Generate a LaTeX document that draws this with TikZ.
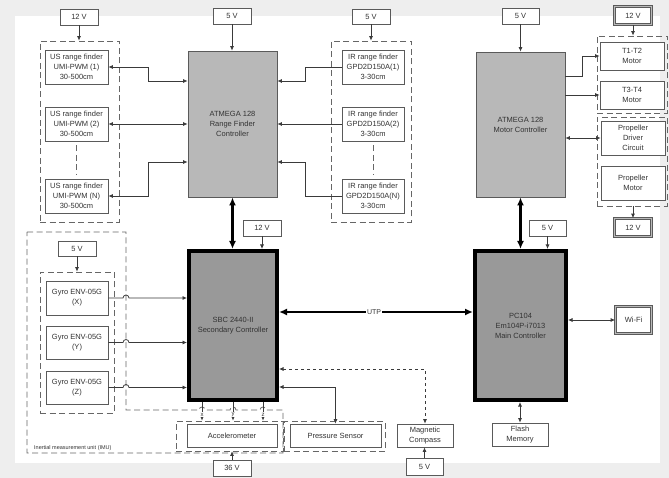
\documentclass[tikz,border=0pt]{standalone}
\usepackage{fontspec}
\setmainfont{Liberation Sans}
\usetikzlibrary{arrows.meta}
\definecolor{bd}{HTML}{5A5A5A}
\definecolor{txt}{HTML}{333333}
\definecolor{cn}{HTML}{3A3A3A}
\definecolor{dsh}{HTML}{666666}
\definecolor{atm}{HTML}{B8B8B8}
\definecolor{cpu}{HTML}{999999}
\definecolor{bg}{HTML}{EEEEEE}
\tikzset{
  box/.style={draw=bd, line width=0.7pt, fill=white, inner sep=0pt, align=center, text=txt},
  pw/.style={box},
  dbl/.style={draw=bd, line width=0.7pt, double=gray!55, double distance=1.6pt, fill=white, inner sep=0pt, align=center, text=txt},
  grp/.style={draw=dsh, line width=0.8pt, dash pattern=on 6pt off 3.5pt, inner sep=0pt},
  atmbox/.style={draw=bd, line width=0.8pt, fill=atm, inner sep=0pt, align=center, text=txt},
  cpubox/.style={draw=black, line width=4pt, fill=cpu, inner sep=0pt, align=center, text=txt},
  conn/.style={draw=cn, line width=0.75pt},
  arr/.style={conn, -{Latex[length=4.5pt,width=4pt]}},
  darr/.style={conn, {Latex[length=4.5pt,width=4pt]}-{Latex[length=4.5pt,width=4pt]}},
  tharr/.style={draw=black, line width=2.4pt, {Latex[length=8pt,width=7pt]}-{Latex[length=8pt,width=7pt]}},
  lbl/.style={font=\fontsize{6}{6}\selectfont, text=txt, inner sep=0.5pt, fill=white}
}
\begin{document}
\begin{tikzpicture}[x=1pt,y=-1pt, font=\fontsize{7.5}{10}\selectfont]
\fill[bg] (0,0) rectangle (669,478);
\fill[white] (15,16) rectangle (660,463);
\useasboundingbox (0,0) rectangle (669,478);

% groups
\node[grp, minimum width=79pt, minimum height=181pt] (usgrp) at (79.5,131.5) {};
\node[grp, minimum width=80pt, minimum height=181pt] (irgrp) at (371,131.5) {};
\node[grp, minimum width=70pt, minimum height=77pt] (mg1) at (632,74.5) {};
\node[grp, minimum width=70pt, minimum height=89pt] (mg2) at (632,161.5) {};
\node[grp, minimum width=74pt, minimum height=141pt] (gyrogrp) at (77,342.5) {};
\node[grp, minimum width=107pt, minimum height=30pt] (accgrp) at (229.5,436) {};
\node[grp, minimum width=101pt, minimum height=30pt] (presgrp) at (334.5,436) {};

% IMU outline
\draw[draw=dsh, line width=0.8pt, dash pattern=on 6pt off 3.5pt]
  (27,232) -- (126,232) -- (126,410) -- (199,410)
  arc[start angle=180,end angle=0,radius=3pt] -- (230,410)
  arc[start angle=180,end angle=0,radius=3pt] -- (260,410)
  arc[start angle=180,end angle=0,radius=3pt] -- (283,410) -- (283,453) -- (27,453) -- cycle;
\node[font=\fontsize{5.5}{6}\selectfont, text=txt, anchor=west, inner sep=0pt] (imulbl) at (34,448) {Inertial measurement unit (IMU)};

% power boxes
\node[pw, minimum width=38pt, minimum height=16pt] (p12a) at (79,17) {12 V};
\node[pw, minimum width=38pt, minimum height=16pt] (p5a) at (232,16) {5 V};
\node[pw, minimum width=38pt, minimum height=15pt] (p5b) at (371,16.5) {5 V};
\node[pw, minimum width=37pt, minimum height=16pt] (p5c) at (520.5,16) {5 V};
\node[dbl, minimum width=37pt, minimum height=18pt] (p12b) at (633,15.5) {12 V};
\node[dbl, minimum width=37pt, minimum height=18pt] (p12c) at (633,227.5) {12 V};
\node[dbl, minimum width=36pt, minimum height=27pt] (wifi) at (633.5,320) {Wi-Fi};
\node[pw, minimum width=38pt, minimum height=16pt] (p12d) at (262,228) {12 V};
\node[pw, minimum width=37pt, minimum height=16pt] (p5d) at (547.5,228) {5 V};
\node[pw, minimum width=38pt, minimum height=15pt] (p5e) at (77,248.5) {5 V};
\node[pw, minimum width=38pt, minimum height=16pt] (p36) at (232,468) {36 V};
\node[pw, minimum width=37pt, minimum height=17pt] (p5f) at (424.5,466.5) {5 V};

% US range finders
\node[box, minimum width=63pt, minimum height=34pt] (us1) at (76.5,67) {US range finder\\UMI-PWM (1)\\30-500cm};
\node[box, minimum width=63pt, minimum height=34pt] (us2) at (76.5,124) {US range finder\\UMI-PWM (2)\\30-500cm};
\node[box, minimum width=63pt, minimum height=34pt] (usN) at (76.5,196) {US range finder\\UMI-PWM (N)\\30-500cm};
% IR range finders
\node[box, minimum width=62pt, minimum height=34pt] (ir1) at (373,67) {IR range finder\\GPD2D150A(1)\\3-30cm};
\node[box, minimum width=62pt, minimum height=34pt] (ir2) at (373,124) {IR range finder\\GPD2D150A(2)\\3-30cm};
\node[box, minimum width=62pt, minimum height=34pt] (irN) at (373,196) {IR range finder\\GPD2D150A(N)\\3-30cm};
\draw[grp] ([yshift=-4pt]us2.south) -- ([yshift=4pt]usN.north);
\draw[grp] ([yshift=-4pt]ir2.south) -- ([yshift=4pt]irN.north);

% controllers
\node[atmbox, minimum width=89pt, minimum height=146pt] (atm1) at (232.5,124) {ATMEGA 128\\Range Finder\\Controller};
\node[atmbox, minimum width=89pt, minimum height=145pt] (atm2) at (520.5,124.5) {ATMEGA 128\\Motor Controller};
\node[cpubox, minimum width=88pt, minimum height=149pt] (sbc) at (233,325.5) {SBC 2440-II\\Secondary Controller};
\node[cpubox, minimum width=91pt, minimum height=149pt] (pc) at (520.5,325.5) {PC104\\Em104P-i7013\\Main Controller};

% motors
\node[box, minimum width=64pt, minimum height=28pt] (t12) at (632,56) {T1-T2\\Motor};
\node[box, minimum width=64pt, minimum height=28pt] (t34) at (632,95) {T3-T4\\Motor};
\node[box, minimum width=64pt, minimum height=34pt] (pd) at (633,138) {Propeller\\Driver\\Circuit};
\node[box, minimum width=64pt, minimum height=34pt] (pm) at (633,183) {Propeller\\Motor};

% gyros
\node[box, minimum width=62pt, minimum height=34pt] (gx) at (77,298) {Gyro ENV-05G\\(X)};
\node[box, minimum width=62pt, minimum height=33pt] (gy) at (77,342.5) {Gyro ENV-05G\\(Y)};
\node[box, minimum width=62pt, minimum height=33pt] (gz) at (77,387.5) {Gyro ENV-05G\\(Z)};

% bottom boxes
\node[box, minimum width=90pt, minimum height=23pt] (acc) at (232,435.5) {Accelerometer};
\node[box, minimum width=91pt, minimum height=23pt] (pres) at (335.5,435.5) {Pressure Sensor};
\node[box, minimum width=56pt, minimum height=23pt] (comp) at (425,435.5) {Magnetic\\Compass};
\node[box, minimum width=56pt, minimum height=23pt] (flash) at (520,434.5) {Flash\\Memory};

% power connectors
\draw[arr] (p12a.south) -- (p12a.south |- usgrp.north);
\draw[arr] (p5a.south) -- (p5a.south |- atm1.north);
\draw[arr] (p5b.south) -- (p5b.south |- irgrp.north);
\draw[arr] (p5c.south) -- (p5c.south |- atm2.north);
\draw[arr] (p12b.south) -- (p12b.south |- mg1.north);
\draw[arr] (p12c.north |- mg2.south) -- (p12c.north);
\draw[arr] (p12d.south) -- (p12d.south |- sbc.north);
\draw[arr] (p5d.south) -- (p5d.south |- pc.north);
\draw[arr] (p5e.south) -- (p5e.south |- gyrogrp.north);
\draw[arr] (p36.north) -- (p36.north |- accgrp.south);
\draw[arr] (p5f.north) -- (p5f.north |- comp.south);

% US connectors
\draw[darr] (us1.east) -- ++(40,0) |- ([yshift=43pt]atm1.west);
\draw[darr] (us2.east) -- (atm1.west);
\draw[darr] (usN.east) -- ++(40,0) |- ([yshift=-38pt]atm1.west);
% IR connectors
\draw[arr] (ir1.west) -- ++(-36,0) |- ([yshift=43pt]atm1.east);
\draw[arr] (ir2.west) -- (atm1.east);
\draw[arr] (irN.west) -- ++(-36,0) |- ([yshift=-38pt]atm1.east);

% motor connectors
\draw[arr] ([yshift=48.5pt]atm2.east) -- ++(17,0) |- (t12.west);
\draw[arr] (atm2.east |- t34.west) -- (t34.west);
\draw[darr] (atm2.east |- pd.west) -- (pd.west);

% thick links
\draw[tharr] (atm1.south) -- (atm1.south |- sbc.north);
\draw[tharr] (atm2.south) -- (atm2.south |- pc.north);
\draw[tharr] ([yshift=13.5pt]sbc.east) -- ([yshift=13.5pt]pc.west)
  node[pos=0.49, fill=white, inner sep=1pt, text=txt, font=\fontsize{7}{7}\selectfont] (utp) {UTP};

% PC104 peripherals
\draw[darr] (pc.east |- wifi.west) -- (wifi.west);
\draw[darr] (pc.south -| flash.north) -- (flash.north);

% SBC peripherals
\draw[darr, dashed] ([yshift=-43.5pt]sbc.east) -| (comp.north);
\draw[darr] ([yshift=-61.5pt]sbc.east) -| (pres.north);

% gyro connectors with hops
\draw[arr] (gx.east) -- (123,298) arc[start angle=180,end angle=0,radius=3pt] -- (sbc.west |- gx.east);
\draw[arr] (gy.east) -- (123,342.5) arc[start angle=180,end angle=0,radius=3pt] -- (sbc.west |- gy.east);
\draw[arr] (gz.east) -- (123,387.5) arc[start angle=180,end angle=0,radius=3pt] -- (sbc.west |- gz.east);

% accelerometer axes
\draw[arr] ([xshift=-31pt]sbc.south) -- ([xshift=-31pt]sbc.south |- accgrp.north);
\draw[arr] (sbc.south) -- (sbc.south |- accgrp.north);
\draw[arr] ([xshift=30pt]sbc.south) -- ([xshift=30pt]sbc.south |- accgrp.north);
\node[lbl] (lx) at (202,414.5) {x};
\node[lbl] (ly) at (233,414.5) {y};
\node[lbl] (lz) at (263,414.5) {z};
\end{tikzpicture}
\end{document}
